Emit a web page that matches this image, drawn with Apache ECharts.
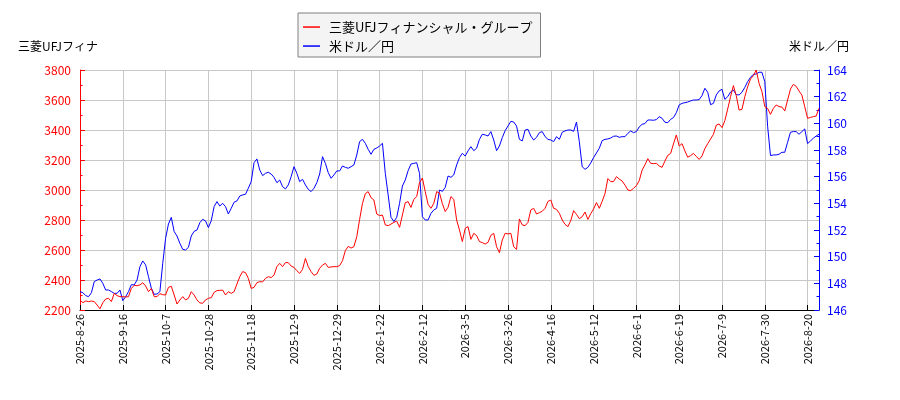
<!DOCTYPE html>
<html>
<head>
<meta charset="utf-8">
<script src="https://cdn.jsdelivr.net/npm/echarts@6/dist/echarts.min.js"></script>
<style>
html,body{margin:0;padding:0;background:#fff;}
#chart{width:900px;height:400px;}
</style>
</head>
<body>
<div id="chart"></div>
<script>
const seriesNames = ['三菱UFJフィナンシャル・グループ', '米ドル／円'];
const leftAxisName = '三菱UFJフィナ';
const rightAxisName = '米ドル／円';
const tickLabels = ['2025-8-26','2025-9-16','2025-10-7','2025-10-28','2025-11-18','2025-12-9','2025-12-29','2026-1-22','2026-2-12','2026-3-5','2026-3-26','2026-4-16','2026-5-12','2026-6-1','2026-6-19','2026-7-9','2026-7-30','2026-8-20'];
const tickStep = 15;

const mufg = [
2267,2249,2260,2256,2260,2256,2233,2208,2249,2273,
2278,2256,2311,2296,2289,2289,2287,2289,2344,2364,
2362,2367,2382,2360,2322,2344,2289,2289,2309,2302,
2300,2351,2358,2300,2240,2267,2289,2267,2278,2322,
2300,2267,2247,2245,2267,2278,2282,2318,2329,2331,
2333,2300,2322,2311,2322,2373,2422,2456,2449,2411,
2344,2351,2382,2389,2387,2411,2422,2416,2433,2489,
2511,2489,2516,2516,2493,2484,2462,2444,2471,2544,
2489,2456,2431,2440,2478,2500,2511,2484,2487,2489,
2489,2496,2529,2596,2624,2613,2622,2689,2804,2911,
2976,2989,2949,2933,2840,2829,2833,2767,2762,2773,
2784,2793,2751,2833,2916,2922,2884,2938,2956,3049,
3080,2989,2904,2878,2911,2989,2980,2909,2856,2885,
2956,2938,2800,2733,2656,2744,2756,2671,2711,2696,
2656,2649,2640,2651,2698,2711,2622,2582,2667,2711,
2707,2711,2622,2604,2807,2767,2762,2784,2867,2878,
2840,2849,2858,2878,2924,2933,2878,2871,2845,2800,
2771,2756,2796,2862,2838,2809,2822,2853,2804,2842,
2873,2916,2878,2924,2976,3076,3056,3056,3089,3073,
3060,3033,3000,2996,3011,3029,3062,3133,3167,3209,
3178,3176,3178,3160,3151,3193,3231,3244,3307,3367,
3293,3309,3260,3219,3229,3244,3224,3204,3227,3276,
3309,3340,3371,3433,3440,3416,3462,3540,3622,3696,
3629,3533,3538,3622,3689,3740,3762,3800,3711,3656,
3556,3544,3504,3544,3567,3556,3553,3527,3600,3673,
3704,3691,3660,3633,3556,3478,3484,3489,3493,3544
];

const usdjpy = [
147.38,147.3,147.08,147.0,147.3,148.13,148.25,148.33,148.0,147.5,
147.5,147.38,147.25,147.25,147.5,146.7,147.0,147.38,147.9,147.88,
148.25,149.25,149.68,149.38,148.5,147.63,147.18,147.2,147.38,149.5,
151.38,152.45,152.95,151.88,151.55,151.0,150.55,150.5,150.7,151.55,
151.9,152.0,152.55,152.8,152.68,152.18,152.7,153.75,154.13,153.8,
154.0,153.75,153.2,153.63,154.08,154.18,154.55,154.63,154.68,155.13,
155.63,157.05,157.33,156.5,156.08,156.25,156.33,156.2,155.95,155.55,
155.75,155.25,155.08,155.38,156.0,156.75,156.25,155.63,155.8,155.38,
155.05,154.88,155.13,155.55,156.2,157.5,157.0,156.3,155.88,156.13,
156.43,156.43,156.8,156.7,156.63,156.75,156.88,157.63,158.63,158.8,
158.5,158.05,157.68,158.05,158.15,158.3,158.5,156.25,154.63,152.95,
152.63,152.95,154.0,155.3,155.75,156.45,156.95,157.0,157.05,156.25,
153.0,152.75,152.75,153.25,153.5,153.63,155.0,154.9,155.2,156.05,
155.95,156.13,156.88,157.43,157.75,157.55,157.93,158.25,157.95,158.13,
158.8,159.18,159.13,159.05,159.38,158.75,157.95,158.3,158.93,159.45,
159.8,160.15,160.1,159.8,158.8,158.68,159.5,159.55,159.05,158.75,
158.95,159.3,159.38,159.0,158.8,158.75,158.63,159.0,158.8,159.33,
159.43,159.5,159.5,159.4,160.1,158.63,156.75,156.55,156.7,157.03,
157.43,157.78,158.13,158.7,158.8,158.83,158.9,159.03,159.05,158.95,
159.0,159.0,159.25,159.43,159.3,159.38,159.73,159.93,159.98,160.25,
160.25,160.23,160.28,160.5,160.38,160.08,160.05,160.3,160.43,160.8,
161.38,161.5,161.55,161.6,161.68,161.75,161.75,161.78,162.08,162.63,
162.33,161.4,161.5,162.13,162.43,162.55,161.8,162.0,162.35,162.5,
162.15,162.13,162.33,162.7,163.13,163.45,163.68,163.7,163.83,163.83,
163.13,159.75,157.58,157.63,157.63,157.68,157.83,157.83,158.58,159.33,
159.38,159.38,159.18,159.38,159.58,158.48,158.68,158.88,159.05,159.18
];

const categories = mufg.map((_, i) => String(i));
const onTick = (idx) => idx % tickStep === 0;
const FONT = 'Noto Sans CJK JP';
const LINE_ICON = 'path://M0,0 M0,6.3 L17,6.3 L17,7.8 L0,7.8 Z M17,14';

const chart = echarts.init(document.getElementById('chart'), null, {renderer: 'canvas'});
chart.setOption({
  animation: false,
  backgroundColor: '#ffffff',
  textStyle: {fontFamily: FONT},
  grid: {left: 80, right: 81, top: 70, bottom: 90, containLabel: false},
  legend: {
    show: true,
    data: [
      {name: seriesNames[0], icon: LINE_ICON, itemStyle: {color: '#ff0000'}},
      {name: seriesNames[1], icon: LINE_ICON, itemStyle: {color: '#0000ff'}}
    ],
    orient: 'vertical',
    left: 298,
    top: 13,
    itemWidth: 17,
    itemHeight: 14,
    itemGap: 5,
    symbolKeepAspect: false,
    padding: [7, 8, 4, 5],
    backgroundColor: '#f4f4f4',
    borderColor: '#808080',
    borderWidth: 1,
    borderRadius: 0,
    textStyle: {fontFamily: FONT, fontSize: 13, color: '#000', padding: [0, 0, 0, 4]}
  },
  xAxis: {
    type: 'category',
    data: categories,
    boundaryGap: false,
    axisLine: {show: true, lineStyle: {color: '#000', width: 1}},
    axisTick: {show: true, inside: true, length: 5, interval: (i) => onTick(i), lineStyle: {color: '#000'}},
    axisLabel: {
      show: true, rotate: 90, margin: 4, interval: (i) => onTick(i),
      fontFamily: FONT, fontSize: 11, color: '#000',
      formatter: (v, idx) => tickLabels[idx / tickStep] || ''
    },
    splitLine: {show: true, interval: (i) => onTick(i), lineStyle: {color: '#c8c8c8', width: 1}}
  },
  yAxis: [
    {
      type: 'value', position: 'left', min: 2200, max: 3800, interval: 200,
      name: leftAxisName, nameLocation: 'end', nameGap: 18,
      nameTextStyle: {fontFamily: FONT, fontSize: 12, color: '#000', padding: [0, 44, 0, 0]},
      axisLine: {show: true, lineStyle: {color: '#ff0000', width: 1}},
      axisTick: {show: true, inside: true, length: 5, lineStyle: {color: '#ff0000'}},
      minorTick: {show: true, splitNumber: 2, length: 2.5, lineStyle: {color: '#ff0000'}},
      axisLabel: {color: '#ff0000', fontFamily: FONT, fontSize: 12, margin: 9, formatter: (v) => String(v)},
      splitLine: {show: true, lineStyle: {color: '#c8c8c8', width: 1}}
    },
    {
      type: 'value', position: 'right', min: 146, max: 164, interval: 2,
      name: rightAxisName, nameLocation: 'end', nameGap: 18,
      nameTextStyle: {fontFamily: FONT, fontSize: 12, color: '#000'},
      axisLine: {show: true, lineStyle: {color: '#0000ff', width: 1}},
      axisTick: {show: true, inside: true, length: 5, lineStyle: {color: '#0000ff'}},
      minorTick: {show: true, splitNumber: 2, length: 2.5, lineStyle: {color: '#0000ff'}},
      axisLabel: {color: '#0000ff', fontFamily: FONT, fontSize: 12, margin: 8, formatter: (v) => String(v)},
      splitLine: {show: false}
    }
  ],
  series: [
    {
      name: seriesNames[1], type: 'line', yAxisIndex: 1, data: usdjpy,
      symbol: 'none', showSymbol: false, z: 2,
      lineStyle: {color: '#0000ff', width: 1}, itemStyle: {color: '#0000ff'}
    },
    {
      name: seriesNames[0], type: 'line', yAxisIndex: 0, data: mufg,
      symbol: 'none', showSymbol: false, z: 3,
      lineStyle: {color: '#ff0000', width: 1}, itemStyle: {color: '#ff0000'}
    }
  ]
});
</script>
</body>
</html>
